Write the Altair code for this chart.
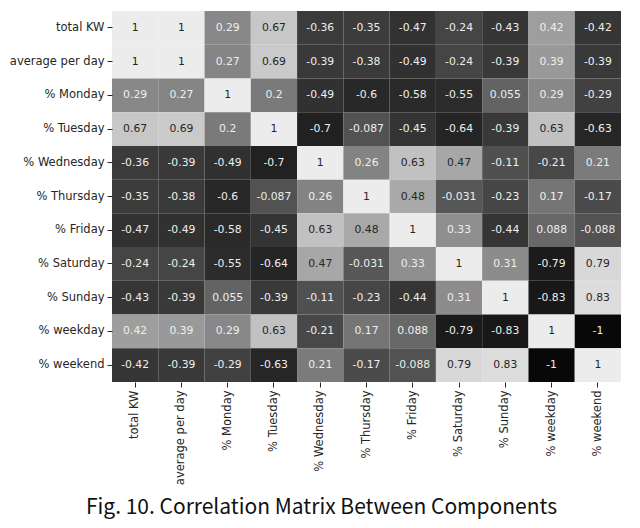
import altair as alt
import pandas as pd

labels = ["total KW", "average per day", "% Monday", "% Tuesday", "% Wednesday",
          "% Thursday", "% Friday", "% Saturday", "% Sunday", "% weekday", "% weekend"]

r_total = [1, 1, 0.29, 0.67, -0.36, -0.35, -0.47, -0.24, -0.43, 0.42, -0.42]
r_avg = [1, 1, 0.27, 0.69, -0.39, -0.38, -0.49, -0.24, -0.39, 0.39, -0.39]
r_mon = [0.29, 0.27, 1, 0.2, -0.49, -0.6, -0.58, -0.55, 0.055, 0.29, -0.29]
r_tue = [0.67, 0.69, 0.2, 1, -0.7, -0.087, -0.45, -0.64, -0.39, 0.63, -0.63]
r_wed = [-0.36, -0.39, -0.49, -0.7, 1, 0.26, 0.63, 0.47, -0.11, -0.21, 0.21]
r_thu = [-0.35, -0.38, -0.6, -0.087, 0.26, 1, 0.48, -0.031, -0.23, 0.17, -0.17]
r_fri = [-0.47, -0.49, -0.58, -0.45, 0.63, 0.48, 1, 0.33, -0.44, 0.088, -0.088]
r_sat = [-0.24, -0.24, -0.55, -0.64, 0.47, -0.031, 0.33, 1, 0.31, -0.79, 0.79]
r_sun = [-0.43, -0.39, 0.055, -0.39, -0.11, -0.23, -0.44, 0.31, 1, -0.83, 0.83]
r_wkd = [0.42, 0.39, 0.29, 0.63, -0.21, 0.17, 0.088, -0.79, -0.83, 1, -1]
r_wke = [-0.42, -0.39, -0.29, -0.63, 0.21, -0.17, -0.088, 0.79, 0.83, -1, 1]

rows = [r_total, r_avg, r_mon, r_tue, r_wed, r_thu, r_fri, r_sat, r_sun, r_wkd, r_wke]

records = []
for rl, vals in zip(labels, rows):
    for cl, v in zip(labels, vals):
        records.append({"row": rl, "col": cl, "value": v, "label": f"{v:.2g}"})
df = pd.DataFrame(records)

x_enc = alt.X("col:N", sort=labels, title=None,
              axis=alt.Axis(labelAngle=-90, domain=False, tickSize=5, tickColor="#262626",
                            labelColor="#262626", labelFont="DejaVu Sans", labelFontSize=11.5,
                            labelPadding=3, tickWidth=1))
y_enc = alt.Y("row:N", sort=labels, title=None,
              axis=alt.Axis(domain=False, tickSize=5, tickColor="#262626",
                            labelColor="#262626", labelFont="DejaVu Sans", labelFontSize=11.5,
                            labelPadding=3, tickWidth=1))

base = alt.Chart(df).encode(x=x_enc, y=y_enc)

rects = base.mark_rect().encode(
    color=alt.Color("value:Q", legend=None,
                    scale=alt.Scale(domain=[-1, -0.5, 0, 0.5, 0.75, 1],
                                    range=["#080808", "#303030", "#5a5a5a", "#acacac", "#d4d4d4", "#ececec"]))
)

texts = base.mark_text(font="DejaVu Sans", fontSize=10.8).encode(
    text="label:N",
    color=alt.condition(alt.datum.value > 0.45, alt.value("#262626"), alt.value("#eeeeee"))
)

chart = (rects + texts).properties(
    width=509, height=371,
    title=alt.TitleParams("Fig. 10. Correlation Matrix Between Components", orient="bottom",
                          anchor="middle", font="Noto Sans CJK KR", fontSize=21,
                          fontWeight="normal", color="#111111", offset=29, dx=-45,
                          baseline="alphabetic"),
    autosize=alt.AutoSizeParams(type="none"),
    padding={"left": 104, "top": 3, "right": 11, "bottom": 138},
).configure_view(stroke=None).configure_axis(grid=False)

chart.save("out.html", embed_options={"renderer": "svg", "actions": False})
